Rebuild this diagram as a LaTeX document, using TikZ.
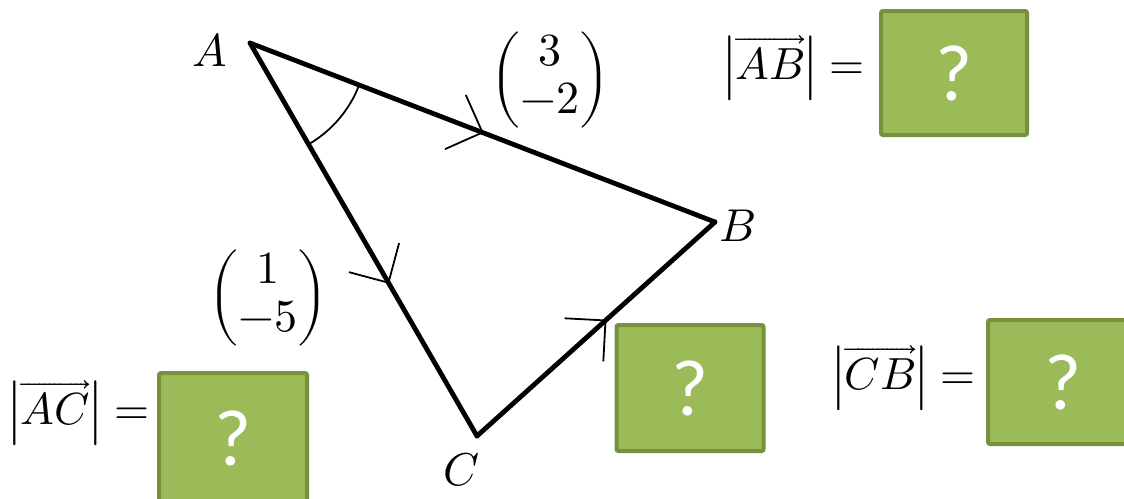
\documentclass[tikz,border=0pt]{standalone}
\usepackage{amsmath}
\usepackage{fontspec}
\usepackage{unicode-math}
\setmathfont{Latin Modern Math}
\newfontfamily\qfont{Carlito}
\usetikzlibrary{calc,decorations.markings}
\definecolor{boxfill}{RGB}{155,187,89}
\definecolor{boxline}{RGB}{118,146,60}
\tikzset{
  edge/.style={line width=4.8pt, line cap=round, line join=round},
  chev/.style={postaction={decorate}, decoration={markings, mark=at position #1 with {\draw[line width=1.8pt, line cap=butt] (-29pt,29pt) -- (0,0) -- (-29pt,-29pt);}}},
  qbox/.style={draw=boxline, fill=boxfill, line width=4pt, rounded corners=2pt, minimum width=#1, text=white, font=\qfont\fontsize{80}{84}\selectfont, inner sep=0pt},
  vlab/.style={font=\fontsize{46}{48}\selectfont, inner sep=0pt},
  eqlab/.style={font=\fontsize{45}{50}\selectfont, inner sep=0pt}
}
\begin{document}
\begin{tikzpicture}[x=1pt,y=-1pt]
\useasboundingbox (0,0) rectangle (1124,498);
\coordinate (A) at (250,43);
\coordinate (B) at (715,222);
\coordinate (C) at (477,436);
% triangle
\draw[edge, chev=0.5] (A) -- (B);
\draw[edge, chev=0.61] (A) -- (C);
\draw[edge, chev=0.54] (C) -- (B);
% angle arc at A
\draw[line width=1.8pt] ($(A)+(21:117)$) arc[start angle=21, end angle=60, radius=117];
% vertex labels
\node[vlab] (la) at (210,50) {$A$};
\node[vlab] (lb) at (738,226) {$B$};
\node[vlab] (lc) at (462,470) {$C$};
% column vectors
\node[vlab] (vab) at (550,80) {$\begin{pmatrix}3\\-2\end{pmatrix}$};
\node[vlab] (vac) at (268,298) {$\begin{pmatrix}1\\-5\end{pmatrix}$};
% magnitude equations
\node[eqlab] (eab) at (794,68) {$\left|\overrightarrow{AB}\right|=$};
\node[eqlab] (eac) at (79,413) {$\left|\overrightarrow{AC}\right|=$};
\node[eqlab] (ecb) at (904,378) {$\left|\overrightarrow{CB}\right|=$};
% green boxes
\node[qbox=146pt, minimum height=124pt] (q1) at (954,73) {?};
\node[qbox=147pt, minimum height=126pt] (q2) at (690,388) {?};
\node[qbox=148pt, minimum height=130pt] (q3) at (233,438) {?};
\node[qbox=150pt, minimum height=124pt] (q4) at (1063,382) {?};
\end{tikzpicture}
\end{document}
